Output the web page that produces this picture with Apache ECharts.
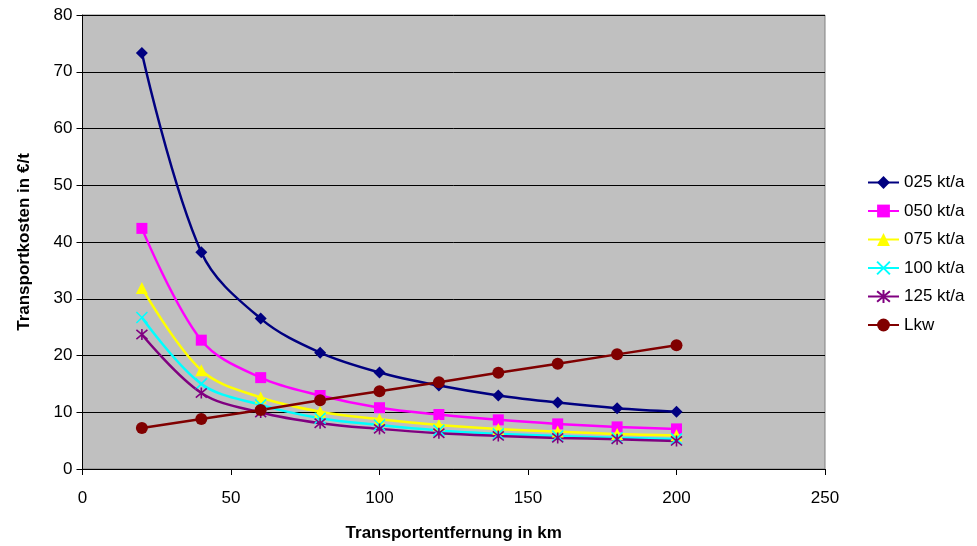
<!DOCTYPE html>
<html>
<head>
<meta charset="utf-8">
<script src="https://cdn.jsdelivr.net/npm/echarts@6/dist/echarts.min.js"></script>
<style>html,body{margin:0;padding:0;background:#fff}#c{width:977px;height:546px}</style>
</head>
<body>
<div id="c"></div>
<script>
const distances = [20, 40, 60, 80, 100, 120, 140, 160, 180, 200];
const s025 = [73.3, 38.2, 26.5, 20.5, 17.0, 14.7, 12.95, 11.7, 10.7, 10.07];
const s050 = [42.4, 22.7, 16.1, 12.95, 10.8, 9.6, 8.66, 7.95, 7.42, 7.07];
const s075 = [31.9, 17.4, 12.6, 10.1, 8.78, 7.77, 7.07, 6.6, 6.18, 5.95];
const s100 = [26.7, 15.0, 11.3, 8.95, 7.75, 6.8, 6.2, 5.8, 5.5, 5.3];
const s125 = [23.7, 13.4, 9.95, 8.07, 7.07, 6.3, 5.83, 5.48, 5.24, 4.95];
const lkw  = [7.24, 8.83, 10.4, 12.1, 13.7, 15.3, 16.96, 18.55, 20.2, 21.8];
const seriesNames = ['025 kt/a', '050 kt/a', '075 kt/a', '100 kt/a', '125 kt/a', 'Lkw'];
const xTicks = [0, 50, 100, 150, 200, 250];
const yTicks = [0, 10, 20, 30, 40, 50, 60, 70, 80];

const FONT = 'Liberation Sans, Arial, sans-serif';
const pairs = v => distances.map((d, i) => [d, v[i]]);
const X_PATH = 'path://M0,0L10,10M10,0L0,10';
const AST_PATH = 'path://M0,0L10,10M10,0L0,10M5,-1L5,11';

function mk(name, vals, color, symbol, size, smooth, stroke) {
  return {
    name, type: 'line', data: pairs(vals), smooth: smooth ? 0.35 : false,
    symbol, symbolSize: size,
    lineStyle: { color, width: 2.5 },
    itemStyle: stroke ? { color, borderColor: color, borderWidth: 1.6 } : { color, borderWidth: 0 },
    emphasis: { disabled: true },
    z: 3
  };
}

const chart = echarts.init(document.getElementById('c'), null, { renderer: 'canvas' });
chart.setOption({
  animation: false,
  backgroundColor: '#ffffff',
  grid: { left: 82.5, top: 15, right: 152, bottom: 77, show: true, backgroundColor: '#C0C0C0', borderColor: '#808080', borderWidth: 1, containLabel: false, outerBoundsMode: 'none' },
  xAxis: {
    type: 'value', min: xTicks[0], max: xTicks[xTicks.length - 1], interval: 50,
    name: 'Transportentfernung in km', nameLocation: 'middle', nameGap: 56,
    nameTextStyle: { fontFamily: FONT, fontSize: 17, fontWeight: 'bold', color: '#000' },
    axisLine: { show: true, lineStyle: { color: '#000', width: 1 } },
    axisTick: { show: true, inside: false, length: 6, lineStyle: { color: '#000' } },
    axisLabel: { fontFamily: FONT, fontSize: 17, color: '#000', margin: 21 },
    splitLine: { show: false }
  },
  yAxis: {
    type: 'value', min: yTicks[0], max: yTicks[yTicks.length - 1], interval: 10,
    name: 'Transportkosten in €/t', nameLocation: 'middle', nameGap: 50, nameRotate: 90,
    nameTextStyle: { fontFamily: FONT, fontSize: 17, fontWeight: 'bold', color: '#000' },
    axisLine: { show: true, lineStyle: { color: '#000', width: 1 } },
    axisTick: { show: true, inside: false, length: 6, lineStyle: { color: '#000' } },
    axisLabel: { fontFamily: FONT, fontSize: 17, color: '#000', margin: 10 },
    splitLine: { show: true, lineStyle: { color: '#000', width: 1 } }
  },
  legend: {
    orient: 'vertical', left: 862, top: 169, itemGap: 11.5, itemWidth: 31, itemHeight: 16,
    textStyle: { fontFamily: FONT, fontSize: 17, color: '#000' },
    data: seriesNames
  },
  series: [
    mk(seriesNames[0], s025, '#000080', 'diamond', 12, true, false),
    mk(seriesNames[1], s050, '#FF00FF', 'rect', 11, true, false),
    mk(seriesNames[2], s075, '#FFFF00', 'triangle', 12, true, false),
    mk(seriesNames[3], s100, '#00FFFF', X_PATH, 11, true, true),
    mk(seriesNames[4], s125, '#800080', AST_PATH, 11, true, true),
    mk(seriesNames[5], lkw, '#800000', 'circle', 12, false, false)
  ]
});
</script>
</body>
</html>
